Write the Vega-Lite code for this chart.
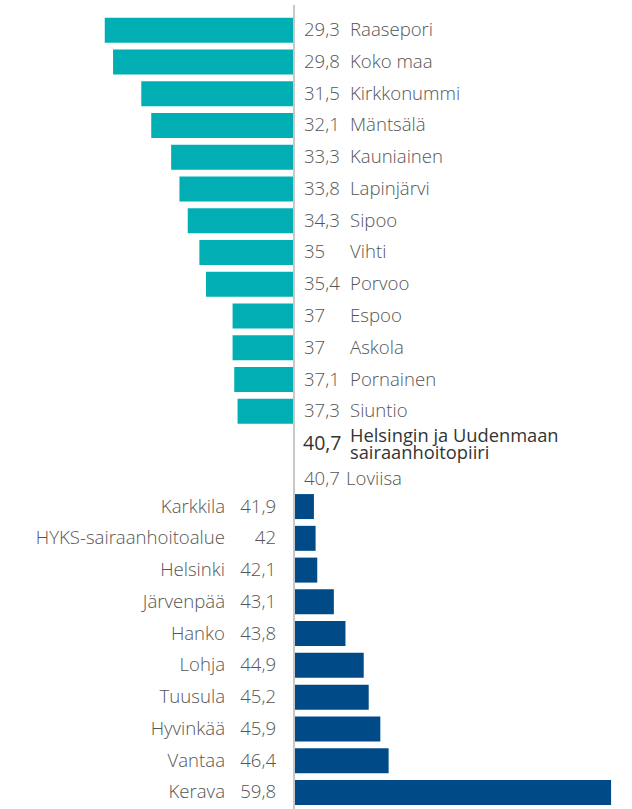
{
  "$schema": "https://vega.github.io/schema/vega-lite/v6.json",
  "width": 632,
  "height": 804,
  "padding": {"left": 0, "right": 0, "top": 5, "bottom": 0},
  "autosize": {"type": "none"},
  "background": "#ffffff",
  "config": {
    "view": {"stroke": null},
    "locale": {"number": {"decimal": ",", "thousands": " ", "grouping": [3], "currency": ["", " €"]}},
    "text": {"font": "Open Sans", "fontSize": 18.6, "fontWeight": 300, "color": "#555555", "baseline": "middle"}
  },
  "data": {
    "values": [
      {"name": "Raasepori", "value": 29.3, "side": "low"},
      {"name": "Koko maa", "value": 29.8, "side": "low"},
      {"name": "Kirkkonummi", "value": 31.5, "side": "low"},
      {"name": "Mäntsälä", "value": 32.1, "side": "low"},
      {"name": "Kauniainen", "value": 33.3, "side": "low"},
      {"name": "Lapinjärvi", "value": 33.8, "side": "low"},
      {"name": "Sipoo", "value": 34.3, "side": "low"},
      {"name": "Vihti", "value": 35, "side": "low"},
      {"name": "Porvoo", "value": 35.4, "side": "low"},
      {"name": "Espoo", "value": 37, "side": "low"},
      {"name": "Askola", "value": 37, "side": "low"},
      {"name": "Pornainen", "value": 37.1, "side": "low"},
      {"name": "Siuntio", "value": 37.3, "side": "low"},
      {"name": "Helsingin ja Uudenmaan\nsairaanhoitopiiri", "value": 40.7, "side": "ref"},
      {"name": "Loviisa", "value": 40.7, "side": "mid"},
      {"name": "Karkkila", "value": 41.9, "side": "high"},
      {"name": "HYKS-sairaanhoitoalue", "value": 42, "side": "high"},
      {"name": "Helsinki", "value": 42.1, "side": "high"},
      {"name": "Järvenpää", "value": 43.1, "side": "high"},
      {"name": "Hanko", "value": 43.8, "side": "high"},
      {"name": "Lohja", "value": 44.9, "side": "high"},
      {"name": "Tuusula", "value": 45.2, "side": "high"},
      {"name": "Hyvinkää", "value": 45.9, "side": "high"},
      {"name": "Vantaa", "value": 46.4, "side": "high"},
      {"name": "Kerava", "value": 59.8, "side": "high"}
    ]
  },
  "encoding": {
    "y": {
      "field": "name",
      "type": "nominal",
      "axis": null,
      "scale": {
        "domain": [
          "Raasepori", "Koko maa", "Kirkkonummi", "Mäntsälä", "Kauniainen", "Lapinjärvi", "Sipoo",
          "Vihti", "Porvoo", "Espoo", "Askola", "Pornainen", "Siuntio",
          "Helsingin ja Uudenmaan\nsairaanhoitopiiri", "Loviisa",
          "Karkkila", "HYKS-sairaanhoitoalue", "Helsinki", "Järvenpää", "Hanko", "Lohja",
          "Tuusula", "Hyvinkää", "Vantaa", "Kerava"
        ],
        "paddingInner": 0.2128,
        "paddingOuter": 0.264,
        "align": 0.756,
        "round": false
      }
    }
  },
  "layer": [
    {
      "transform": [{"filter": "datum.side === 'low' || datum.side === 'high'"}],
      "mark": {"type": "bar"},
      "encoding": {
        "x": {"field": "value", "type": "quantitative", "axis": null, "scale": {"domain": [22.99, 61.06], "nice": false, "zero": false}},
        "x2": {"datum": 40.7},
        "color": {
          "field": "side",
          "type": "nominal",
          "legend": null,
          "scale": {"domain": ["low", "high"], "range": ["#00aeb3", "#004b87"]}
        }
      }
    },
    {
      "mark": {"type": "rule", "color": "#c8c8c8", "strokeWidth": 1.8},
      "encoding": {"x": {"datum": 40.7}, "y": null}
    },
    {
      "transform": [{"filter": "datum.side === 'low'"}],
      "layer": [
        {
          "mark": {"type": "text", "align": "left", "dx": 10},
          "encoding": {"x": {"datum": 40.7}, "text": {"field": "value", "type": "quantitative", "format": ".1~f"}}
        },
        {
          "mark": {"type": "text", "align": "left", "dx": 56},
          "encoding": {"x": {"datum": 40.7}, "text": {"field": "name"}}
        }
      ]
    },
    {
      "transform": [{"filter": "datum.side === 'mid'"}],
      "layer": [
        {
          "mark": {"type": "text", "align": "left", "dx": 10, "dy": 4},
          "encoding": {"x": {"datum": 40.7}, "text": {"field": "value", "type": "quantitative", "format": ".1~f"}}
        },
        {
          "mark": {"type": "text", "align": "left", "dx": 52, "dy": 4},
          "encoding": {"x": {"datum": 40.7}, "text": {"field": "name"}}
        }
      ]
    },
    {
      "transform": [{"filter": "datum.side === 'ref'"}],
      "layer": [
        {
          "mark": {"type": "text", "align": "left", "dx": 9, "dy": 1, "fontSize": 19.5, "fontWeight": 400, "color": "#333333"},
          "encoding": {"x": {"datum": 40.7}, "text": {"field": "value", "type": "quantitative", "format": ".1~f"}}
        },
        {
          "mark": {"type": "text", "align": "left", "dx": 56, "dy": -6, "fontSize": 18.3, "fontWeight": 400, "color": "#333333", "lineBreak": "\n", "lineHeight": 17},
          "encoding": {"x": {"datum": 40.7}, "text": {"field": "name"}}
        }
      ]
    },
    {
      "transform": [{"filter": "datum.side === 'high'"}],
      "layer": [
        {
          "mark": {"type": "text", "align": "right", "dx": -18},
          "encoding": {"x": {"datum": 40.7}, "text": {"field": "value", "type": "quantitative", "format": ".1~f"}}
        },
        {
          "mark": {"type": "text", "align": "right", "dx": -69},
          "encoding": {"x": {"datum": 40.7}, "text": {"field": "name"}}
        }
      ]
    }
  ]
}
